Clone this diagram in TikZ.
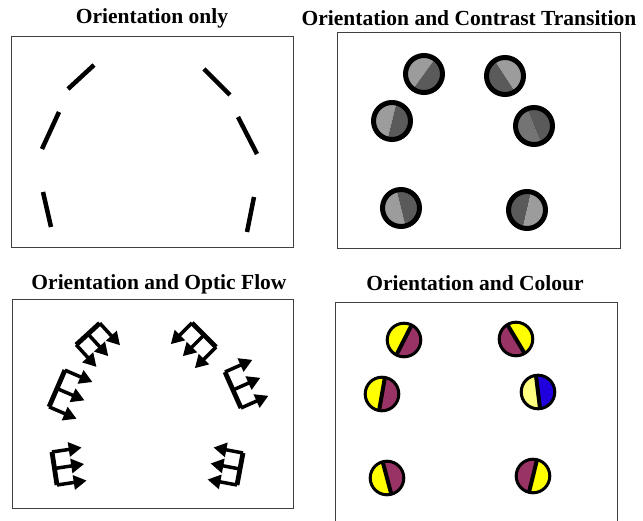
\documentclass[tikz,border=0pt]{standalone}
\usepackage{fontspec}
\setmainfont{Liberation Serif}
\usetikzlibrary{arrows.meta}

\definecolor{lgray}{HTML}{9C9C9C}
\definecolor{mgray}{HTML}{747474}
\definecolor{dgray}{HTML}{5A5A5A}
\definecolor{hilite}{HTML}{FFFF00}
\definecolor{paleyel}{HTML}{FFFF80}
\definecolor{plum}{HTML}{993366}
\definecolor{deepblue}{HTML}{2000DC}

\begin{document}
\begin{tikzpicture}[
  x=1pt, y=1pt,
  ttl/.style    ={font=\bfseries\fontsize{21.5}{24}\selectfont, inner sep=0pt},
  panel/.style  ={draw=black!75, line width=0.9pt},
  obar/.style   ={draw=black, line width=4.5pt},
  ring/.style   ={draw=black, line width=5pt},
  disc/.style   ={draw=black, line width=3pt},
  splitln/.style={draw=black, line width=4pt},
  flowbar/.style={draw=black, line width=4.8pt},
  flowarr/.style={-{Triangle[length=13pt,width=14pt]}, draw=black, line width=3.5pt}
]
\useasboundingbox (0,0) rectangle (643,520);

% ---- titles ----
\node[ttl] (t-orient)   at (152,502) {Orientation only};
\node[ttl] (t-contrast) at (469,502) {Orientation and Contrast Transition};
\node[ttl] (t-flow)     at (159,236) {Orientation and Optic Flow};
\node[ttl] (t-colour)   at (475,237) {Orientation and Colour};

% ---- panel frames ----
\draw[panel] (11,273) rectangle (293,484);
\draw[panel] (337,272) rectangle (620,488);
\draw[panel] (12,12) rectangle (293,221);
\draw[panel] (335,-10) rectangle (617,218);

% ---- orientation only: plain bars ----
\draw[obar] (68,431) -- (94,455);
\draw[obar] (59,408) -- (42,371);
\draw[obar] (43,328) -- (51,293);
\draw[obar] (204,451) -- (230,425);
\draw[obar] (238,403) -- (257,366);
\draw[obar] (254,323) -- (247,288);

% ---- contrast transition: grey discs with ring ----
\foreach \cx/\cy/\t/\ca/\cb in {424/446/54/lgray/dgray, 505/444/123/dgray/lgray,
    392/399/76/lgray/dgray, 534/394/112/mgray/dgray,
    401/312/104/lgray/dgray, 527/310/77/dgray/lgray}{
  \fill[\ca] (\cx,\cy) ++(\t:18.5) arc[start angle=\t, end angle=\t+180, radius=18.5] -- cycle;
  \fill[\cb] (\cx,\cy) ++({\t+180}:18.5) arc[start angle=\t+180, end angle=\t+360, radius=18.5] -- cycle;
  \draw[ring] (\cx,\cy) circle (18.5);
}

% ---- optic flow: bar with three arrows ----
\foreach \cx/\cy/\a/\h/\b in {88/186/42.5/16/-47.5, 57/131.5/66.6/20/-23.4,
    54.5/51.5/98.6/16.7/8.6, 204/185/135/17/225,
    233/130/114/19.7/24, 240/51/79.4/16.3/169.4}{
  \draw[flowbar] (\cx,\cy) ++(\a:\h) -- ++({\a+180}:{2*\h});
  \foreach \s in {-1,0,1}
    \draw[flowarr] (\cx,\cy) ++(\a:{\s*\h}) -- ++(\b:30);
}

% ---- colour: split discs ----
\foreach \cx/\cy/\t/\ca/\cb in {404/180/63/hilite/plum, 516/181/121/plum/hilite,
    382/126/80/hilite/plum, 538/128/97/paleyel/deepblue,
    387/42/105/hilite/plum, 533/44/76/plum/hilite}{
  \fill[\ca] (\cx,\cy) ++(\t:16.8) arc[start angle=\t, end angle=\t+180, radius=16.8] -- cycle;
  \fill[\cb] (\cx,\cy) ++({\t+180}:16.8) arc[start angle=\t+180, end angle=\t+360, radius=16.8] -- cycle;
  \draw[splitln] (\cx,\cy) ++(\t:16.8) -- ++({\t+180}:33.6);
  \draw[disc] (\cx,\cy) circle (16.8);
}

\end{tikzpicture}
\end{document}
